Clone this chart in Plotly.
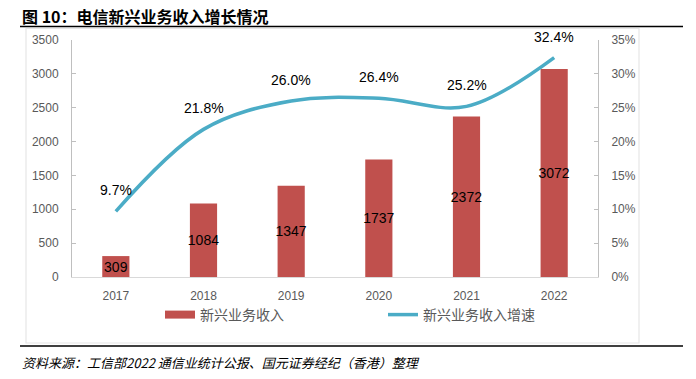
import plotly.graph_objects as go

years = ["2017", "2018", "2019", "2020", "2021", "2022"]
revenue = [309, 1084, 1347, 1737, 2372, 3072]
growth = [0.097, 0.218, 0.260, 0.264, 0.252, 0.324]
growth_labels = ["9.7%", "21.8%", "26.0%", "26.4%", "25.2%", "32.4%"]
bar_name = "新兴业务收入"
line_name = "新兴业务收入增速"
title_text = "图 10：电信新兴业务收入增长情况"
source_text = "资料来源：工信部2022 通信业统计公报、国元证券经纪（香港）整理"

# page body has an 8px default margin; compensate so the chart lands where the reference has it
OFF = 8
W, H = 696, 379
PW, PH = 526, 237
L, T = 72 - OFF, 40 - OFF
R, B = W - L - PW, H - T - PH

def px_x(px):
    return (px - OFF - L) / PW

def px_y(py):
    return (T + PH - (py - OFF)) / PH

BAR_COLOR = "#C0504D"
LINE_COLOR = "#4BACC6"
TICK_FONT = dict(family="Liberation Sans, Arial, sans-serif", size=12, color="#595959")
CJK = "Noto Sans CJK SC, sans-serif"

fig = go.Figure()
fig.add_trace(go.Bar(
    x=years, y=revenue, name=bar_name, marker=dict(color=BAR_COLOR, line=dict(width=0)),
    width=0.31, text=[str(v) for v in revenue], textposition="inside",
    insidetextanchor="middle", textangle=0, constraintext="none",
    textfont=dict(family="Liberation Sans, Arial, sans-serif", size=14, color="#000000"),
    showlegend=False, yaxis="y", cliponaxis=False,
))
# legend proxy for the bar series (rectangle look)
fig.add_trace(go.Scatter(
    x=[years[0]], y=[None], mode="lines", name=bar_name,
    line=dict(color=BAR_COLOR, width=8), legend="legend", showlegend=True,
))
fig.add_trace(go.Scatter(
    x=years, y=growth, name=line_name, mode="lines", yaxis="y2",
    line=dict(color=LINE_COLOR, width=3.5, shape="spline", smoothing=1.0),
    legend="legend2",
))

annotations = []
for i, (g, lab) in enumerate(zip(growth, growth_labels)):
    annotations.append(dict(
        x=i, y=g, xref="x", yref="y2", text=lab, showarrow=False, yshift=21,
        font=dict(family="Liberation Sans, Arial, sans-serif", size=14, color="#000000"),
    ))
annotations.append(dict(
    x=px_x(20), y=px_y(16), xref="paper", yref="paper", xanchor="left", yanchor="middle",
    text="<b>" + title_text + "</b>", showarrow=False,
    font=dict(family=CJK, size=16, color="#000000"),
))
annotations.append(dict(
    x=px_x(20), y=px_y(362), xref="paper", yref="paper", xanchor="left", yanchor="middle",
    text="<i>" + source_text + "</i>", showarrow=False,
    font=dict(family=CJK, size=13, color="#000000"),
))

shapes = [
    dict(type="line", xref="paper", yref="paper", x0=px_x(20), x1=px_x(683),
         y0=px_y(26.5), y1=px_y(26.5), line=dict(color="#000000", width=1.5)),
    dict(type="line", xref="paper", yref="paper", x0=px_x(20), x1=px_x(683),
         y0=px_y(346), y1=px_y(346), line=dict(color="#000000", width=1.5)),
    dict(type="rect", xref="paper", yref="paper", x0=px_x(26), x1=px_x(639),
         y0=px_y(343), y1=px_y(28.5), line=dict(color="#E6E6E6", width=1.2), layer="below"),
]

fig.update_layout(
    width=W, height=H, margin=dict(l=L, r=R, t=T, b=B, autoexpand=False),
    paper_bgcolor="white", plot_bgcolor="white",
    uniformtext=dict(minsize=14, mode="show"),
    xaxis=dict(
        type="category", categoryorder="array", categoryarray=years,
        range=[-0.5, len(years) - 0.5],
        showline=True, linecolor="#D9D9D9", linewidth=1,
        ticks="", tickfont=TICK_FONT, ticklabelstandoff=8, showgrid=False, zeroline=False,
    ),
    yaxis=dict(
        range=[0, 3500], dtick=500, showgrid=False, zeroline=False,
        showline=True, linecolor="#BFBFBF", linewidth=1, ticks="inside", ticklen=4,
        tickcolor="#BFBFBF", tickfont=TICK_FONT, ticklabelstandoff=10,
    ),
    yaxis2=dict(
        range=[0, 0.35], dtick=0.05, tickformat=".0%", overlaying="y", side="right",
        showgrid=False, zeroline=False, showline=True, linecolor="#BFBFBF", linewidth=1,
        ticks="inside", ticklen=4, tickcolor="#BFBFBF", tickfont=TICK_FONT,
        ticklabelstandoff=10,
    ),
    legend=dict(
        orientation="h", x=px_x(160), y=px_y(315), xanchor="left", yanchor="middle",
        font=dict(family=CJK, size=14, color="#595959"), bgcolor="rgba(0,0,0,0)",
    ),
    legend2=dict(
        orientation="h", x=px_x(383), y=px_y(315), xanchor="left", yanchor="middle",
        font=dict(family=CJK, size=14, color="#595959"), bgcolor="rgba(0,0,0,0)",
    ),
    annotations=annotations,
    shapes=shapes,
)

fig.write_html("out.html")
